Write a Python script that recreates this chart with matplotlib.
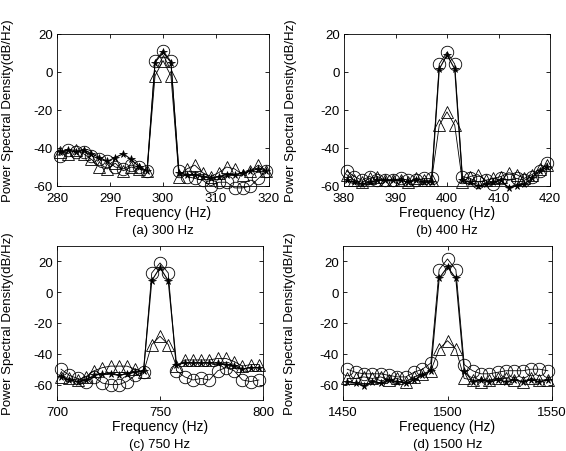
import matplotlib
matplotlib.use("Agg")
import matplotlib.pyplot as plt
import numpy as np
from matplotlib.transforms import offset_copy

plt.rcParams["font.family"] = ["Liberation Sans", "DejaVu Sans"]
plt.rcParams["axes.unicode_minus"] = False

# (a) 300 Hz, 1.5 Hz bins
freq_a = 300 + 1.5 * np.arange(-13, 14)
star_a = [-42, -41, -42, -41, -43, -45, -47, -45, -43, -46, -50, -52, 5, 10.4, 5,
          -53, -54, -54, -55, -56, -55, -54, -54, -53, -52, -51, -52]
circ_a = [-44, -41, -42, -42, -44, -46, -47, -50, -51, -49, -50, -52, 5.6, 11.2, 5.6,
          -52, -55, -56, -57, -60, -58, -58, -61, -61, -60, -56, -52]
tri_a = [-42, -43, -41, -43, -46, -50, -51, -48, -52, -50, -51, -52, -2, 6, -2,
         -55, -51, -49, -53, -55, -53, -50, -51, -54, -52, -49, -52]

# (b) 400 Hz, 1.5 Hz bins
freq_b = 400 + 1.5 * np.arange(-13, 14)
star_b = [-57, -58, -59, -58, -57, -57, -57, -57, -58, -57, -58, -58, 1.6, 9, 1.6,
          -57, -58, -60, -59, -58, -57, -61, -60, -59, -56, -52, -50]
circ_b = [-52, -55, -57, -55, -57, -57, -57, -56, -57, -57, -56, -56, 4.2, 10.4, 4.2,
          -55, -56, -58, -57, -59, -56, -57, -56, -57, -55, -52, -48]
tri_b = [-54, -57, -58, -56, -55, -57, -57, -57, -58, -56, -57, -57, -28, -21, -28,
         -58, -55, -54, -57, -56, -55, -53, -54, -56, -54, -51, -49]

# (c) 750 Hz, 4 Hz bins
freq_c = 750 + 4 * np.arange(-12, 13)
star_c = [-55, -57, -58, -57, -54, -53, -53, -54, -53, -52, -51, 7.5, 16, 7.5,
          -47, -46, -46, -46, -46, -46, -47, -48, -50, -49, -49]
circ_c = [-50, -54, -56, -58, -55, -59, -60, -60, -58, -54, -52, 12.5, 19, 12.5,
          -51, -55, -57, -56, -57, -51, -49, -51, -57, -58, -57]
tri_c = [-55, -56, -57, -55, -51, -49, -48, -48, -48, -50, -52, -34, -28.6, -34,
         -48, -44, -44, -44, -44, -43, -43, -45, -48, -47, -47]

# (d) 1500 Hz, 4 Hz bins
freq_d = 1500 + 4 * np.arange(-12, 13)
star_d = [-58, -59, -61, -58, -59, -57, -58, -59, -57, -54, -51, 9, 16.4, 9,
          -51, -58, -57, -58, -57, -58, -57, -58, -57, -58, -57]
circ_d = [-50, -52, -53, -53, -53, -54, -55, -55, -52, -50, -46, 14.6, 21.6, 14.6,
          -47, -51, -53, -53, -52, -51, -51, -51, -50, -50, -51]
tri_d = [-56, -56, -55, -56, -55, -57, -56, -58, -55, -53, -51, -36.9, -31.5, -36.9,
         -56, -57, -58, -57, -56, -56, -57, -58, -56, -57, -57]

panels = [
    (freq_a, star_a, circ_a, tri_a, (280, 320), [280, 290, 300, 310, 320], (-60, 20), "(a) 300 Hz"),
    (freq_b, star_b, circ_b, tri_b, (380, 420), [380, 390, 400, 410, 420], (-60, 20), "(b) 400 Hz"),
    (freq_c, star_c, circ_c, tri_c, (700, 800), [700, 750, 800], (-70, 30), "(c) 750 Hz"),
    (freq_d, star_d, circ_d, tri_d, (1450, 1550), [1450, 1500, 1550], (-70, 30), "(d) 1500 Hz"),
]

W, H = 566, 452
boxes = [(57, 35, 269, 187), (344, 35, 550, 187), (57, 247, 263, 401), (343, 247, 552, 401)]

fig = plt.figure(figsize=(W / 100, H / 100), dpi=100)

for (f, s, c, t, xl, xt, yl, cap), (x0, y0, x1, y1) in zip(panels, boxes):
    ax = fig.add_axes([x0 / W, 1 - y1 / H, (x1 - x0) / W, (y1 - y0) / H])
    ax.plot(f, c, "-", color="black", lw=0.6, marker="o", ms=9, mfc="none", mec="black", mew=0.6, clip_on=False)
    ax.plot(f, t, "-", color="black", lw=0.6, marker="^", ms=9, mfc="none", mec="black", mew=0.6, clip_on=False)
    ax.plot(f, s, "-", color="black", lw=0.8, marker="*", ms=5.5, mfc="black", mec="black", mew=0.5, clip_on=False)
    ax.set_xlim(xl)
    ax.set_ylim(yl)
    ax.set_xticks(xt)
    ax.set_yticks([-60, -40, -20, 0, 20])
    ax.tick_params(direction="in", top=True, right=True, labelsize=9.5, length=3, width=0.6)
    ax.tick_params(axis="x", pad=4.5)
    ax.tick_params(axis="y", pad=3)
    for sp in ax.spines.values():
        sp.set_linewidth(0.6)
    ax.text(0, 0.5, "Power Spectral Density(dB/Hz)", rotation=90, ha="center", va="center",
            fontsize=9.5, transform=offset_copy(ax.transAxes, fig, x=-49 if x0 < 100 else -53, y=0, units="dots"))
    ax.text(0.5, 0, "Frequency (Hz)", ha="center", va="center", fontsize=10,
            transform=offset_copy(ax.transAxes, fig, x=0, y=-26, units="dots"))
    ax.text(0.5, 0, cap, ha="center", va="center", fontsize=9.5,
            transform=offset_copy(ax.transAxes, fig, x=0, y=-44, units="dots"))

fig.savefig("out.png", dpi=100)
